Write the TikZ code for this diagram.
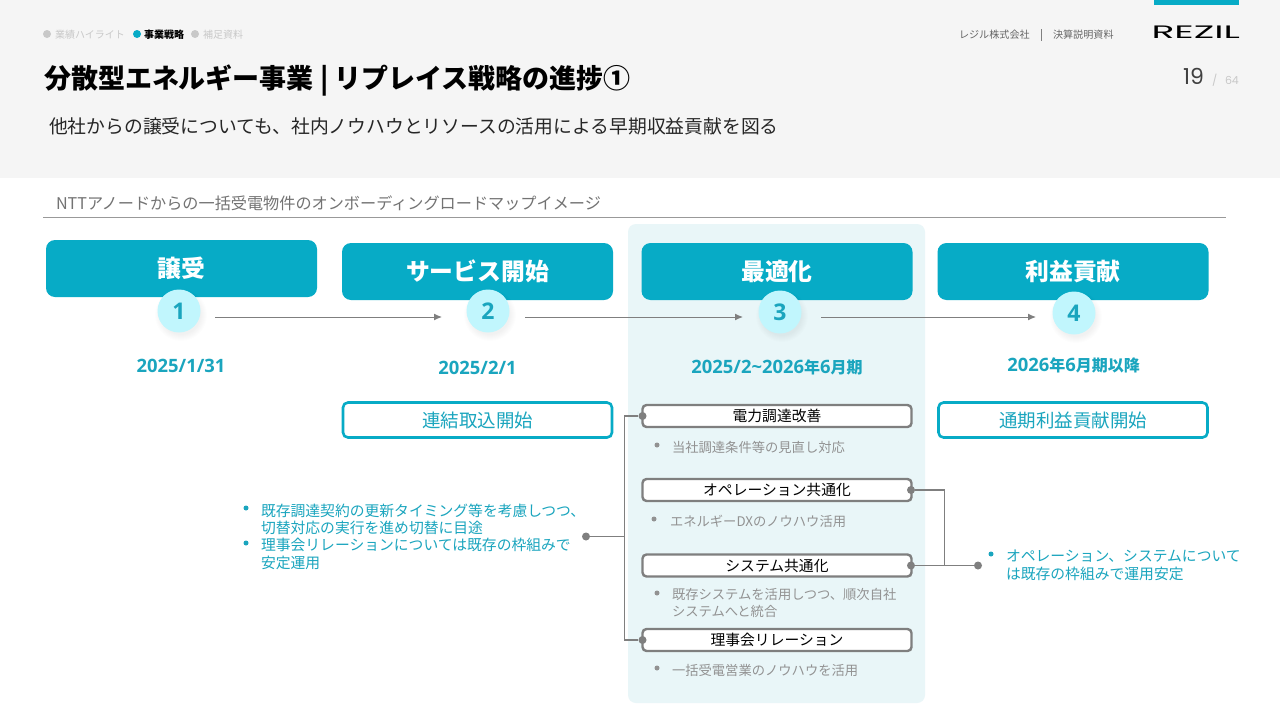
\documentclass[tikz,border=0pt]{standalone}
\usepackage{fontspec}
\setmainfont{Noto Sans CJK JP}
\newfontfamily\jp{Noto Sans CJK JP}
\newfontfamily\lat{Open Sans}
\newfontfamily\pop{Poppins}
\definecolor{teal}{HTML}{07ABC6}
\definecolor{tealtxt}{HTML}{1AA5BE}
\definecolor{panel}{HTML}{E9F6F8}
\definecolor{headbg}{HTML}{F5F5F5}
\definecolor{stroke}{HTML}{7F7F7F}
\definecolor{lightc}{HTML}{C1F6FD}
\definecolor{graytxt}{HTML}{929292}
\definecolor{crumb}{HTML}{C8C8C8}
\newcommand{\fs}[1]{\fontsize{#1}{#1}\selectfont}
\newcommand{\jk}[1]{{\jp\fs{16}#1}}
\tikzset{
  x=1pt,y=-1pt,
  lbl/.style={inner sep=0pt,outer sep=0pt,anchor=west},
  head/.style={fill=teal,rounded corners=9pt,text=white,minimum width=271pt,minimum height=57pt,inner sep=0pt,font=\fs{23.8}\bfseries},
  outl/.style={draw=teal,line width=2.6pt,fill=white,rounded corners=5pt,text=tealtxt,minimum width=269pt,minimum height=35pt,inner sep=0pt,font=\fs{18.5}},
  sbox/.style={draw=stroke,line width=2.4pt,fill=white,rounded corners=4pt,text=black,minimum width=269pt,minimum height=22pt,inner sep=0pt,font=\fs{14.8}},
  num/.style={circle,fill=lightc,minimum size=43pt,inner sep=0pt,text=tealtxt,font=\lat\fs{23}\bfseries},
  dte/.style={inner sep=0pt,text=tealtxt,font=\lat\fs{18.4}\bfseries},
  pin/.style={circle,fill=stroke,minimum size=8pt,inner sep=0pt},
  bul/.style={circle,fill=graytxt,minimum size=5pt,inner sep=0pt},
  tbul/.style={circle,fill=tealtxt,minimum size=5pt,inner sep=0pt},
  gtxt/.style={lbl,text=graytxt,font=\fs{13.3}},
  ttxt/.style={lbl,text=tealtxt,font=\fs{14.8}},
  conn/.style={draw=stroke,line width=1.5pt},
  flow/.style={draw=stroke,line width=1pt,-{Latex[length=8pt,width=7pt]}},
}
\usetikzlibrary{arrows.meta}
\begin{document}
\begin{tikzpicture}
\useasboundingbox (0,0) rectangle (1280,720);
\fill[white] (0,0) rectangle (1280,720);
\fill[headbg] (0,0) rectangle (1280,178);
\fill[teal] (1154,0) rectangle (1239,5);
% breadcrumb
\fill[crumb] (47,34) circle (4);
\node[lbl,text=crumb,font=\fs{10}] (c1) at (55,34.5) {業績ハイライト};
\fill[teal] (137,34) circle (4);
\node[lbl,text=black,font=\fs{10}\bfseries] (c2) at (144,34.5) {事業戦略};
\fill[crumb] (195,34) circle (4);
\node[lbl,text=crumb,font=\fs{10}] (c3) at (203,34.5) {補足資料};
% title
\node[lbl,text=black,font=\fs{27}\bfseries] (title) at (44,81) {分散型エネルギー事業 | リプレイス戦略の進捗①};
\node[lbl,text=black!85,font=\fs{18.8}] (sub) at (49,126) {他社からの譲受についても、社内ノウハウとリソースの活用による早期収益貢献を図る};
% top right
\node[lbl,text=black!60,font=\fs{10.1}] (co) at (959,34.5) {レジル株式会社};
\draw[black!50,line width=0.8pt] (1041,29) -- (1041,41);
\node[lbl,text=black!60,font=\fs{10.1}] (doc) at (1053,34.5) {決算説明資料};
\node[lbl,text=black,font=\pop\fs{18},xscale=2.1] (logo) at (1151.5,32) {REZIL};
\node[lbl,text=black!75,font=\pop\fs{22}] (pg) at (1183,76) {19};
\node[lbl,text=crumb,font=\pop\fs{11}] (sl) at (1212,80) {/};
\node[lbl,text=crumb,font=\pop\fs{11}] (tot) at (1225,80) {64};
% section
\node[lbl,text=black!55,font=\fs{16.15}] (sec) at (56,203) {NTTアノードからの一括受電物件のオンボーディングロードマップイメージ};
\draw[black!40,line width=1pt] (43,217.5) -- (1226,217.5);
% panel
\fill[panel,rounded corners=8pt] (628,224) rectangle (925,703);
% heads
\node[head] (h1) at (181.5,268.5) {譲受};
\node[head] (h2) at (477.5,271.5) {サービス開始};
\node[head] (h3) at (777,271.5) {最適化};
\node[head] (h4) at (1073,271.5) {利益貢献};
% circles with soft shadow
\foreach \cx/\cy in {179/311,488/311,780/312,1074/313}{
  \foreach \r in {26,25,24,23,22,21,20}
    \fill[black,opacity=0.008] (\cx+2,\cy+4) circle (\r);
}
\node[num] (n1) at (179,311) {1};
\node[num] (n2) at (488,311) {2};
\node[num] (n3) at (780,312) {3};
\node[num] (n4) at (1074,313) {4};
\coordinate (a1) at (215,317); \coordinate (b1) at (442,317);
\coordinate (a2) at (525,317); \coordinate (b2) at (743,317);
\coordinate (a3) at (821,317); \coordinate (b3) at (1036,317);
\draw[flow] (a1) -- (b1);
\draw[flow] (a2) -- (b2);
\draw[flow] (a3) -- (b3);
% dates
\node[dte] (d1) at (181,366) {2025/1/31};
\node[dte] (d2) at (477.5,368) {2025/2/1};
\node[dte] (d3) at (777,367) {2025/2\textasciitilde 2026\jk{年}6\jk{月期}};
\node[dte] (d4) at (1073.5,365) {2026\jk{年}6\jk{月期以降}};
% outlined
\node[outl] (o2) at (477.5,420) {連結取込開始};
\node[outl] (o4) at (1073,420) {通期利益貢献開始};
% step boxes
\node[sbox] (s1) at (777,416) {電力調達改善};
\node[sbox] (s2) at (777,490) {オペレーション共通化};
\node[sbox] (s3) at (777,565.5) {システム共通化};
\node[sbox] (s4) at (777,640) {理事会リレーション};
% gray bullets
\node[bul] (g1) at (657,445) {};
\node[gtxt] (gt1) at (672,447) {当社調達条件等の見直し対応};
\node[bul] (g2) at (654,519) {};
\node[gtxt] (gt2) at (670,521) {エネルギーDXのノウハウ活用};
\node[bul] (g3) at (657,593) {};
\node[gtxt] (gt3) at (672,594.5) {既存システムを活用しつつ、順次自社};
\node[gtxt] (gt3b) at (672,611) {システムへと統合};
\node[bul] (g4) at (657,668) {};
\node[gtxt] (gt4) at (672,670) {一括受電営業のノウハウを活用};
% teal bullets left
\node[tbul] (t1) at (246,508) {};
\node[ttxt] (tt1) at (261,511) {既存調達契約の更新タイミング等を考慮しつつ、};
\node[ttxt] (tt1b) at (261,527.5) {切替対応の実行を進め切替に目途};
\node[tbul] (t2) at (246,543) {};
\node[ttxt] (tt2) at (261,545) {理事会リレーションについては既存の枠組みで};
\node[ttxt] (tt2b) at (261,563) {安定運用};
% teal bullet right
\node[tbul] (t3) at (991,554) {};
\node[ttxt] (tt3) at (1006,556.5) {オペレーション、システムについて};
\node[ttxt] (tt3b) at (1006,573.5) {は既存の枠組みで運用安定};
% connectors
\node[pin] (pl) at (586,536.5) {};
\node[pin] (p1) at (642.5,416) {};
\node[pin] (p4) at (642.5,640) {};
\node[pin] (p2) at (911,490) {};
\node[pin] (p3) at (911,565.5) {};
\node[pin] (pr) at (978,565.5) {};
\coordinate (jl) at (624.5,536.5);
\coordinate (jr) at (944.5,565.5);
\draw[conn] (pl) -- (jl);
\draw[conn] (p1) -| (jl);
\draw[conn] (p4) -| (jl);
\draw[conn] (p2) -| (jr);
\draw[conn] (p3) -- (pr);
\end{tikzpicture}
\end{document}
